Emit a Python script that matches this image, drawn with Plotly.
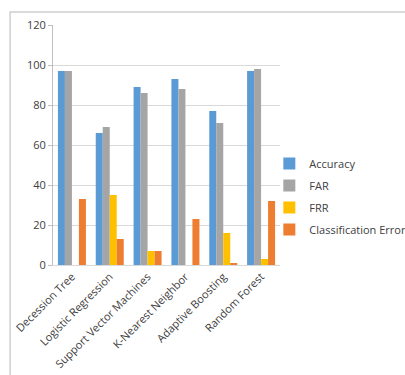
import plotly.graph_objects as go

categories = ["Decession Tree", "Logistic Regression", "Support Vector Machines",
              "K-Nearest Neighbor", "Adaptive Boosting", "Random Forest"]
accuracy = [97, 66, 89, 93, 77, 97]
far = [97, 69, 86, 88, 71, 98]
frr = [0, 35, 7, 0, 16, 3]
class_error = [33, 13, 7, 23, 1, 32]

series = [
    ("Accuracy", accuracy, "#5B9BD5"),
    ("FAR", far, "#A5A5A5"),
    ("FRR", frr, "#FFC000"),
    ("Classification Error", class_error, "#ED7D31"),
]

fig = go.Figure()
for name, vals, color in series:
    fig.add_trace(go.Bar(x=categories, y=vals, name=name, marker_color=color,
                         marker_line_width=0, legendgroup=name))

fig.update_layout(
    width=405, height=375,
    margin=dict(l=53, r=125, t=25, b=110, autoexpand=False),
    paper_bgcolor="white", plot_bgcolor="white",
    font=dict(family="Open Sans, Liberation Sans, Arial", size=11, color="#404040"),
    barmode="group", bargap=0.26, bargroupgap=0,
    showlegend=True,
    legend=dict(xref="container", yref="container", x=0.665, y=0.476,
                xanchor="left", yanchor="middle",
                font=dict(size=11, color="#404040"), tracegroupgap=3,
                itemwidth=30, bgcolor="rgba(0,0,0,0)"),
    shapes=[dict(type="rect", xref="paper", yref="paper",
                 x0=-0.189, x1=1.6, y0=-0.5, y1=1.054,
                 line=dict(color="#cfcfcf", width=1.5), layer="below")],
)
fig.update_yaxes(range=[0, 120], dtick=20, showgrid=True, gridcolor="#d9d9d9",
                 showline=True, linecolor="#bfbfbf", ticks="outside", ticklen=4,
                 tickcolor="#bfbfbf", zeroline=False, tickfont=dict(size=11),
                 automargin=False)
fig.update_xaxes(showline=True, linecolor="#d9d9d9", tickangle=-45,
                 tickfont=dict(size=11), ticks="", automargin=False)

fig.write_html("out.html")
